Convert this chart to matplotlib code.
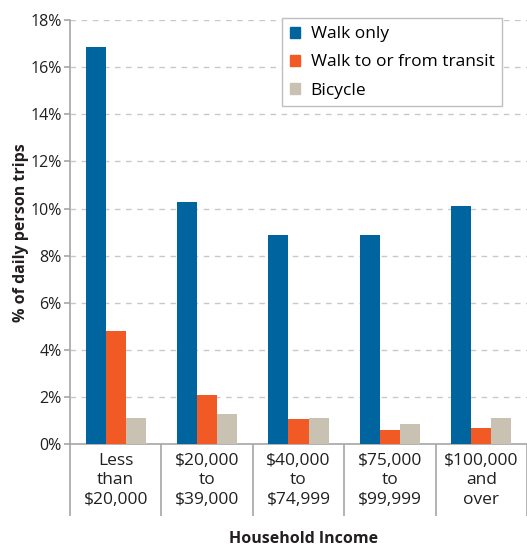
import matplotlib.pyplot as plt
import numpy as np
from matplotlib.patches import Patch

plt.rcParams['font.family'] = ['Open Sans', 'DejaVu Sans']

# data
categories = ["Less\nthan\n$20,000", "$20,000\nto\n$39,000", "$40,000\nto\n$74,999",
              "$75,000\nto\n$99,999", "$100,000\nand\nover"]
walk_only = [16.85, 10.28, 8.88, 8.88, 10.12]
walk_transit = [4.81, 2.09, 1.08, 0.63, 0.68]
bicycle = [1.10, 1.29, 1.10, 0.86, 1.10]
series_names = ["Walk only", "Walk to or from transit", "Bicycle"]
colors = ["#00649e", "#f15a24", "#c9c2b3"]

fig = plt.figure(figsize=(5.27, 5.48), dpi=100)
ax = fig.add_axes([0.1328, 0.189, 0.8672, 0.7745])

x = np.arange(len(categories))
w = 0.22
for i, (vals, c) in enumerate(zip([walk_only, walk_transit, bicycle], colors)):
    ax.bar(x + (i - 1) * w, vals, width=w, color=c, zorder=3)

ax.set_xlim(-0.5, len(categories) - 0.5)
ax.set_ylim(0, 18)
ax.set_yticks(np.arange(0, 19, 2))
ax.set_yticklabels([f"{v}%" for v in range(0, 19, 2)])
ax.yaxis.grid(True, color="#c8c8c8", linestyle=(0, (4, 4)), linewidth=1, zorder=0)

ax.set_xticks(x)
ax.set_xticklabels(categories, linespacing=1.3)
ax.set_xticks(np.arange(-0.5, len(categories), 1), minor=True)
ax.tick_params(axis="x", which="major", length=0, pad=6, labelsize=12.5, colors="#231f20")
ax.tick_params(axis="x", which="minor", length=52, width=1.2, color="#a6a6a6")
ax.tick_params(axis="y", length=4, width=1.2, color="#a6a6a6", labelsize=11.5, labelcolor="#231f20", pad=2)

for s in ["top", "right"]:
    ax.spines[s].set_visible(False)
for s in ["left", "bottom"]:
    ax.spines[s].set_color("#a6a6a6")
    ax.spines[s].set_linewidth(1.2)

ax.set_ylabel("% of daily person trips", fontsize=11.5, fontweight="bold", color="#231f20")
ax.yaxis.set_label_coords(-0.09, 0.5)
ax.set_xlabel("Household Income", fontsize=11.5, fontweight="bold", color="#231f20")
ax.xaxis.set_label_coords(0.51, -0.205)

handles = [Patch(color=c) for c in colors]
leg = ax.legend(handles, series_names, loc="upper right", bbox_to_anchor=(0.965, 1.024),
                fontsize=12.5, frameon=True, fancybox=False, handlelength=0.6, handleheight=0.6,
                handletextpad=0.6, labelspacing=0.7, borderpad=0.45, framealpha=1)
leg.get_frame().set_edgecolor("#bfbfbf")
leg.get_frame().set_linewidth(1)
leg.set_zorder(5)

fig.savefig("out.png", dpi=100)
